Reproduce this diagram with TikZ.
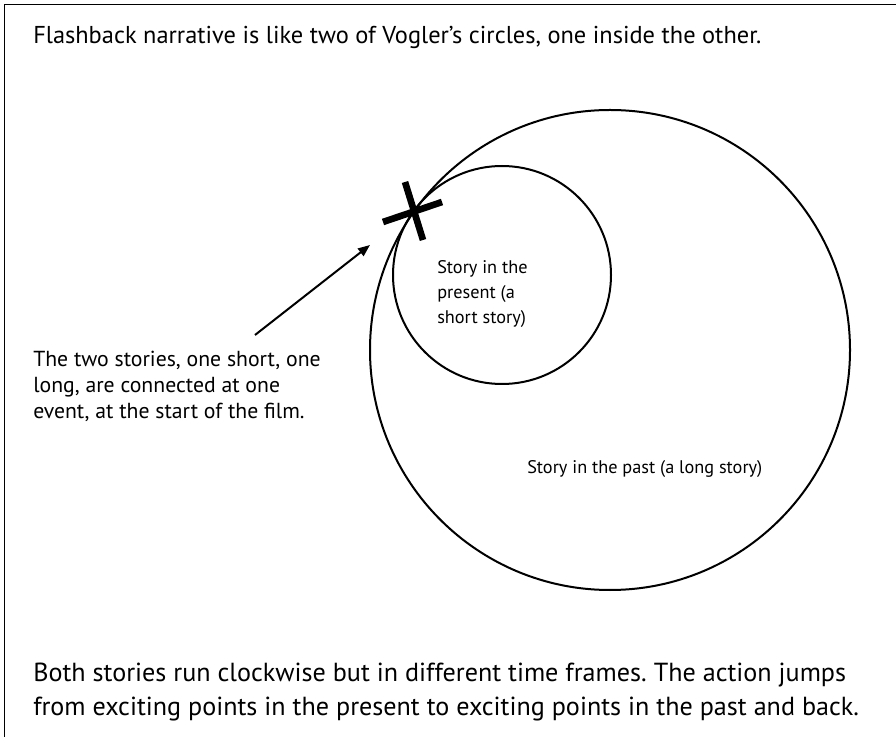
\documentclass[tikz,border=0pt]{standalone}
\usepackage{fontspec}
\setmainfont{PT Sans}
\usetikzlibrary{arrows.meta}
\begin{document}
\frenchspacing
\begin{tikzpicture}[x=0.75pt,y=-0.75pt,
  titletext/.style={anchor=base west,inner sep=0pt,font=\fontsize{18.3}{22}\selectfont},
  foottext/.style={anchor=base west,inner sep=0pt,font=\fontsize{19.6}{23}\selectfont},
  notetext/.style={anchor=base west,inner sep=0pt,font=\fontsize{16.3}{20}\selectfont},
  labeltext/.style={anchor=base west,inner sep=0pt,font=\fontsize{13.7}{18}\selectfont},
  ring/.style={draw,circle,line width=1.5pt,inner sep=0pt},
  xbar/.style={line width=5pt},
  pointer/.style={line width=1.5pt,-{Triangle[length=9pt,width=7pt]}},
  frame/.style={line width=1.4pt}]
\useasboundingbox (0,0) rectangle (896,737);
\draw[frame] (4.5,737) -- (4.5,4.5) -- (896,4.5);
% title
\node[titletext] (title) at (33,44) {Flashback narrative is like two of Vogler’s circles, one inside the other.};
% circles
\node[ring,minimum size=360pt] (outer) at (610,350) {};
\node[ring,minimum size=163.5pt] (inner) at (502,275) {};
% X mark at the meeting point
\coordinate (hit) at (413,212);
\draw[xbar] ([shift={(-8,-30)}]hit) -- ([shift={(10,28)}]hit);
\draw[xbar] ([shift={(-30,10)}]hit) -- ([shift={(29,-10)}]hit);
% labels in circles
\node[labeltext] (p1) at (437,274) {Story in the};
\node[labeltext] (p2) at (437,299) {present (a};
\node[labeltext] (p3) at (437,324) {short story)};
\node[labeltext] (past) at (527,474) {Story in the past (a long story)};
% annotation
\node[notetext] (a1) at (33,367) {The two stories, one short, one};
\node[notetext] (a2) at (33,393) {long, are connected at one};
\node[notetext] (a3) at (33,419) {event, at the start of the film.};
\coordinate (from) at (255,335);
\coordinate (tip) at (370,245);
\draw[pointer] (from) -- (tip);
% bottom text
\node[foottext] (b1) at (33,681) {Both stories run clockwise but in different time frames. The action jumps};
\node[foottext] (b2) at (33,715) {from exciting points in the present to exciting points in the past and back.};
\end{tikzpicture}
\end{document}
